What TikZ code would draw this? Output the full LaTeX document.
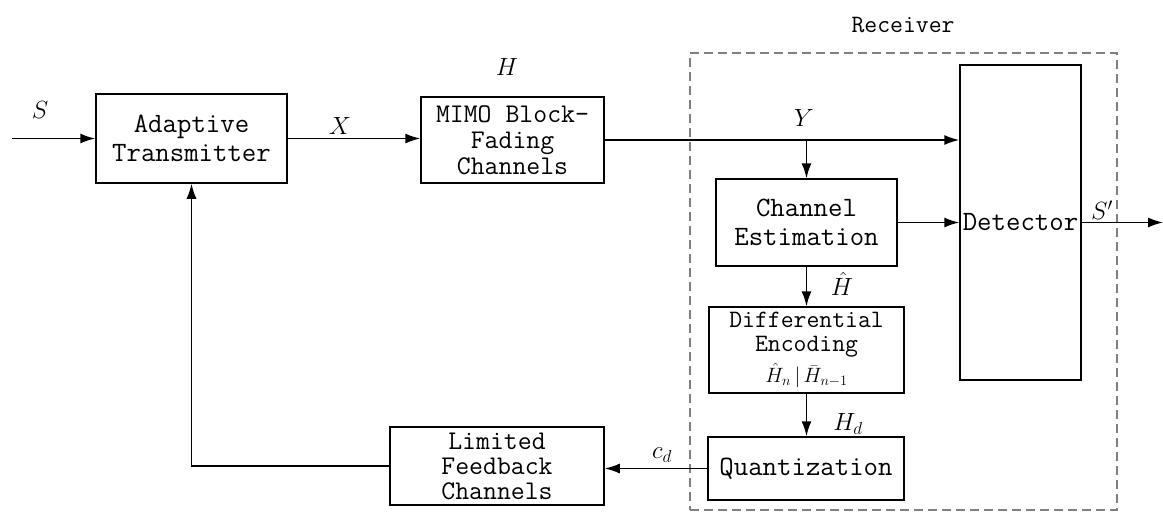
\documentclass[tikz,border=0pt]{standalone}
\usetikzlibrary{arrows.meta}
\begin{document}
\begin{tikzpicture}[x=1pt,y=-1pt,
  blk/.style={draw,line width=1.5pt,inner sep=0pt,align=center,
    font=\ttfamily\fontsize{28}{29}\selectfont},
  lab/.style={inner sep=0pt,font=\fontsize{27}{29}\selectfont},
  arr/.style={line width=1.5pt,-{Latex[length=15pt,width=10pt]}},
  recvbox/.style={draw=gray,line width=2pt,dash pattern=on 9pt off 5pt,inner sep=0pt}]
\useasboundingbox (0,0) rectangle (1163,514);
% receiver
\node[recvbox,minimum width=427pt,minimum height=457pt] (recv) at (903.5,281.5) {};
\node[inner sep=0pt,font=\ttfamily\fontsize{25}{27}\selectfont] (recvlab) at (903,25) {Receiver};
% blocks
\node[blk,minimum width=191pt,minimum height=89pt] (trans) at (191.5,138.5) {Adaptive\\Transmitter};
\node[blk,minimum width=183pt,minimum height=86pt,font=\ttfamily\fontsize{27}{26}\selectfont] (mimo) at (512.5,140) {MIMO Block-\\Fading\\Channels};
\node[blk,minimum width=121pt,minimum height=315pt] (det) at (1020.5,222.5) {Detector};
\node[blk,minimum width=181pt,minimum height=87pt] (chest) at (806.5,222.5) {Channel\\Estimation};
\node[blk,minimum width=195pt,minimum height=86pt,font=\ttfamily\fontsize{25}{24}\selectfont] (diff) at (806.5,350) {Differential\\Encoding\\[4pt]{\rmfamily\fontsize{20}{20}\selectfont$\hat{H}_n\,|\,\bar{H}_{n-1}$}};
\node[blk,minimum width=196pt,minimum height=63pt] (quant) at (806,468.5) {Quantization};
\node[blk,minimum width=214pt,minimum height=78pt,font=\ttfamily\fontsize{27}{25}\selectfont] (lim) at (497,466) {Limited\\Feedback\\Channels};
% coordinates
\coordinate (in) at (12,138.5);
\coordinate (out) at (1163,222.5);
% connectors
\draw[arr] (in) -- (trans.west);
\draw[arr] (trans.east) -- (trans.east -| mimo.west);
\draw[arr] (mimo.east) -- (mimo.east -| det.west);
\draw[arr] (chest.north |- mimo.east) -- (chest.north);
\draw[arr] (chest.east) -- (chest.east -| det.west);
\draw[arr] (det.east) -- (out);
\draw[arr] (chest.south) -- (diff.north);
\draw[arr] (diff.south) -- (diff.south |- quant.north);
\draw[arr] (quant.west) -- (quant.west -| lim.east);
\draw[arr] (lim.west) -- (trans.south |- lim.west) -- (trans.south);
% labels
\node[lab] (ls) at (40,110) {$S$};
\node[lab] (lx) at (340,126) {$X$};
\node[lab] (lh) at (507,67) {$H$};
\node[lab] (ly) at (804,118) {$Y$};
\node[lab] (lhh) at (842,284) {$\hat{H}$};
\node[lab] (lhd) at (848,424) {$H_d$};
\node[lab] (lcd) at (662,455) {$c_d$};
\node[lab] (lso) at (1102,210) {$S'$};
\end{tikzpicture}
\end{document}
